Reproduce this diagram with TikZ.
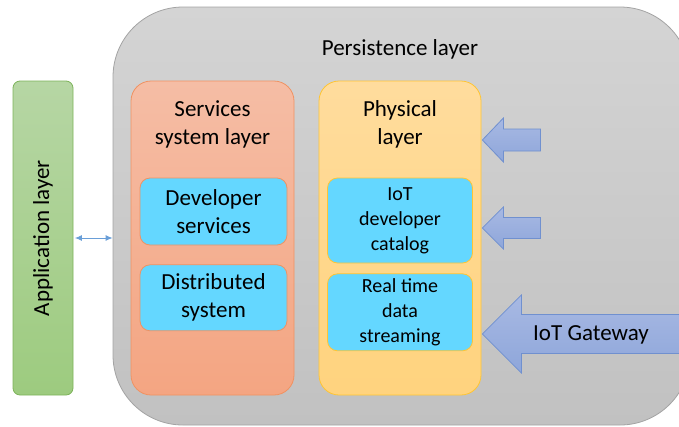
\documentclass[tikz,border=0pt]{standalone}
\usepackage{fontspec}
\setmainfont{Carlito}
\usepackage{xcolor}
\usepackage{tikz}
\usetikzlibrary{arrows,arrows.meta,positioning,calc}
\definecolor{persedge}{HTML}{A3A3A3}
\definecolor{perstop}{HTML}{D4D4D4}
\definecolor{persbot}{HTML}{C1C1C1}
\definecolor{appedge}{HTML}{7DB35A}
\definecolor{apptop}{HTML}{B6D6A4}
\definecolor{appbot}{HTML}{9DCB7F}
\definecolor{servedge}{HTML}{F09262}
\definecolor{servtop}{HTML}{F5BDA5}
\definecolor{servbot}{HTML}{F4A582}
\definecolor{physedge}{HTML}{FFC533}
\definecolor{phystop}{HTML}{FFDC9D}
\definecolor{physbot}{HTML}{FFD37E}
\definecolor{unitblue}{HTML}{64D7FF}
\definecolor{arrowedge}{HTML}{7090CF}
\definecolor{arrowtop}{HTML}{A8B9E3}
\definecolor{arrowbot}{HTML}{8EA6DA}
\definecolor{linkblue}{HTML}{6A9FD8}
\tikzstyle{layer} = [draw, rectangle, rounded corners=20pt,
    minimum width=163pt, minimum height=314pt, line width=0.8pt]
\tikzstyle{unit} = [draw, rectangle, rounded corners=10pt, fill=unitblue,
    inner sep=0pt, align=center, line width=0.8pt]
\tikzstyle{bigtext} = [font=\fontsize{23}{28}\selectfont, align=center]
\tikzstyle{smalltext} = [font=\fontsize{20}{25}\selectfont]
\tikzstyle{fatarrow} = [draw=arrowedge, top color=arrowtop, bottom color=arrowbot, line width=0.8pt]
\tikzstyle{link} = [{Latex[length=7pt,width=6pt]}-{Latex[length=7pt,width=6pt]}, linkblue, line width=0.9pt]

\begin{document}
\begin{tikzpicture}[x=1pt, y=-1pt]
		\useasboundingbox (0,0) rectangle (679,426);
		\clip (0,0) rectangle (679,426);
		
		% application side
		\node[draw=appedge, top color=apptop, bottom color=appbot, rounded corners=7pt,
			minimum width=60pt, minimum height=314pt, line width=0.8pt] (app) at (43,238) {};
		\node[bigtext, rotate=90] (apptext) at (app) {Application layer};
		
		% persistence block
		\node[draw=persedge, top color=perstop, bottom color=persbot, rounded corners=70pt,
			minimum width=577pt, minimum height=418pt, line width=0.8pt] (pers) at (401.5,216) {};
		\node[bigtext] (perstext) at (400,49.5) {Persistence layer};
		
		\draw[link, shorten <=1.5pt] (app.east) -- (app.east -| pers.west);
		
		% services system layer
		\node[layer, draw=servedge, top color=servtop, bottom color=servbot] (serv) at (212.5,238) {};
		\node[bigtext] (servtext) at (212.5,124) {Services\\system layer};
		\node[unit, bigtext, draw=servedge, minimum width=147pt, minimum height=67pt] (dev) at (213.5,211.5) {Developer\\services};
		\node[unit, bigtext, draw=servedge, minimum width=147pt, minimum height=66pt, below=19pt of dev] (dist) {Distributed\\system};
		
		% physical layer
		\node[layer, draw=physedge, top color=phystop, bottom color=physbot, minimum width=162pt] (phys) at (400,238) {};
		\node[bigtext] (phystext) at (400,124) {Physical\\layer};
		\node[unit, smalltext, draw=physedge, minimum width=145pt, minimum height=85pt] (cat) at (400,220.5) {IoT\\developer\\catalog};
		\node[unit, smalltext, draw=physedge, minimum width=145pt, minimum height=77pt, below=10pt of cat] (stream) {Real time\\data\\streaming};
		
		% incoming block arrows
		\coordinate (tipa) at ($(phys.east |- 0,140)+(1,0)$);
		\coordinate (tipb) at ($(phys.east |- 0,228)+(1,0)$);
		\coordinate (tipc) at ($(phys.east |- 0,334)+(1,0)$);
		\draw[fatarrow] (tipa) -- ++(21,-22) -- ++(0,11) -- ++(37,0) -- ++(0,22) -- ++(-37,0) -- ++(0,11) -- cycle;
		\draw[fatarrow] (tipb) -- ++(21,-21) -- ++(0,10.5) -- ++(37,0) -- ++(0,21) -- ++(-37,0) -- ++(0,10.5) -- cycle;
		\draw[fatarrow] (tipc) -- ++(39,-39) -- ++(0,19.5) -- ++(170,0) -- ++(0,39) -- ++(-170,0) -- ++(0,19.5) -- cycle;
		\node[bigtext] (gw) at (591,335) {IoT Gateway};
	\end{tikzpicture}
\end{document}
